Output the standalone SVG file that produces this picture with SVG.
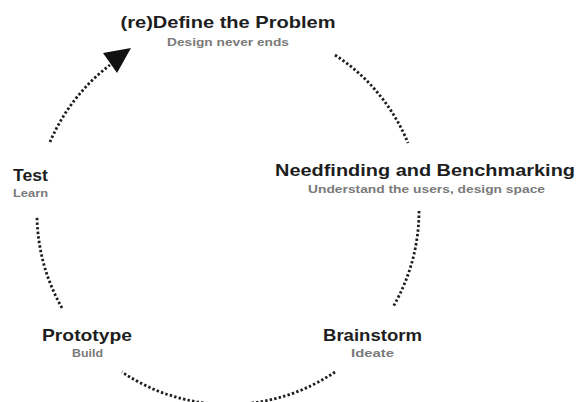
<svg xmlns="http://www.w3.org/2000/svg" width="579" height="402" viewBox="0 0 579 402">
  <style>
    .title { font-family: "Liberation Sans", Arial, sans-serif; font-weight: bold; font-size: 17px; fill: #1e1e1e; text-anchor: middle; }
    .sub { font-family: "Liberation Sans", Arial, sans-serif; font-weight: bold; font-size: 11px; fill: #7a7a7a; text-anchor: middle; }
    .dots { fill: none; stroke: #1e1e1e; stroke-width: 2.8; stroke-dasharray: 2.4 2.2; }
  </style>
  <rect width="579" height="402" fill="#ffffff"/>

  <!-- cycle connectors: dotted arcs on one circle, centre (228,214), r 191 -->
  <g id="connectors">
    <path class="dots" d="M 50 142 A 191 191 0 0 1 110 65"/>
    <polygon points="103,53 131,48 117,73" fill="#111"/>
    <path class="dots" d="M 335 55 A 191 191 0 0 1 408 143"/>
    <path class="dots" d="M 419 211 A 191 191 0 0 1 393 307"/>
    <path class="dots" d="M 335 372 A 191 191 0 0 1 122 372"/>
    <path class="dots" d="M 62 308 A 191 191 0 0 1 37 217"/>
  </g>

  <g id="define">
    <text class="title" x="228" y="28" textLength="215" lengthAdjust="spacingAndGlyphs">(re)Define the Problem</text>
    <text class="sub" x="228" y="46" textLength="122" lengthAdjust="spacingAndGlyphs">Design never ends</text>
  </g>

  <g id="needfinding">
    <text class="title" x="425" y="176" textLength="300" lengthAdjust="spacingAndGlyphs">Needfinding and Benchmarking</text>
    <text class="sub" x="426.5" y="193" textLength="237" lengthAdjust="spacingAndGlyphs">Understand the users, design space</text>
  </g>

  <g id="brainstorm">
    <text class="title" x="372.5" y="341" textLength="99" lengthAdjust="spacingAndGlyphs">Brainstorm</text>
    <text class="sub" x="372.5" y="357" textLength="43" lengthAdjust="spacingAndGlyphs">Ideate</text>
  </g>

  <g id="prototype">
    <text class="title" x="87" y="341" textLength="90" lengthAdjust="spacingAndGlyphs">Prototype</text>
    <text class="sub" x="87.5" y="357" textLength="31" lengthAdjust="spacingAndGlyphs">Build</text>
  </g>

  <g id="test">
    <text class="title" x="30.5" y="181" textLength="35" lengthAdjust="spacingAndGlyphs">Test</text>
    <text class="sub" x="30.5" y="197" textLength="35" lengthAdjust="spacingAndGlyphs">Learn</text>
  </g>
</svg>
